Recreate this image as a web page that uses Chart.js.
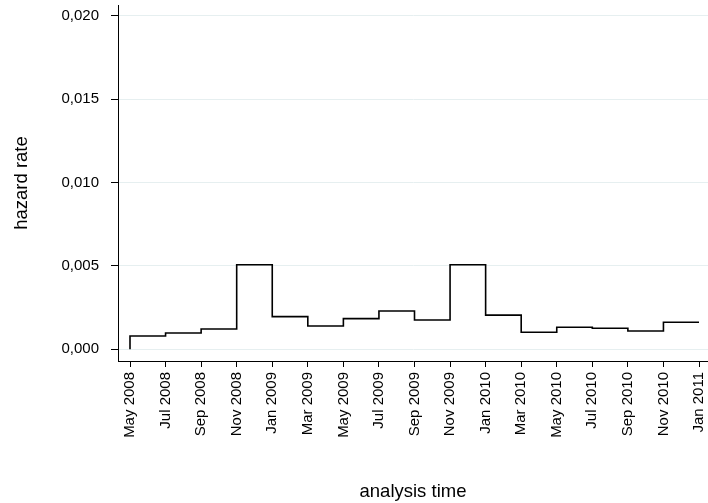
<!DOCTYPE html>
<html>
<head>
<meta charset="utf-8">
<script src="https://cdn.jsdelivr.net/npm/chart.js@4"></script>
<style>
  html, body { margin: 0; padding: 0; background: #fff; }
  #chart { display: block; }
</style>
</head>
<body>
<canvas id="chart" width="708" height="503"></canvas>
<script>
// tick labels on the time axis, one every two months
const tickLabels = [
  "May 2008", "Jul 2008", "Sep 2008", "Nov 2008", "Jan 2009", "Mar 2009",
  "May 2009", "Jul 2009", "Sep 2009", "Nov 2009", "Jan 2010", "Mar 2010",
  "May 2010", "Jul 2010", "Sep 2010", "Nov 2010", "Jan 2011"
];
// step start, in months since May 2008
const stepStart = [0, 2, 4, 6, 8, 10, 12, 14, 16, 18, 20, 22, 24, 26, 28, 30, 32];
// hazard rate held over each two-month interval
const hazard = [
  0.00080, 0.00098, 0.00122, 0.00507, 0.00196, 0.00140, 0.00184, 0.00230,
  0.00176, 0.00507, 0.00205, 0.00102, 0.00132, 0.00126, 0.00110, 0.00162
];
const yTicks = [0, 0.005, 0.010, 0.015, 0.020];

// step points: start at zero, each value is held until the next boundary
const points = [{ x: stepStart[0], y: 0 }, { x: stepStart[0], y: hazard[0] }];
for (let i = 1; i < stepStart.length; i++) {
  points.push({ x: stepStart[i], y: hazard[Math.min(i, hazard.length - 1)] });
}

const font = { family: "'Liberation Sans', Arial, sans-serif", size: 15 };
const titleFont = { family: "'Liberation Sans', Arial, sans-serif", size: 18.5 };

new Chart(document.getElementById("chart"), {
  type: "line",
  data: {
    datasets: [{
      data: points,
      stepped: "before",
      borderColor: "#000",
      borderWidth: 1.6,
      pointRadius: 0,
      fill: false
    }]
  },
  options: {
    responsive: false,
    devicePixelRatio: 1,
    animation: false,
    layout: { padding: { top: 5, right: 0, left: 0, bottom: 0 } },
    plugins: { legend: { display: false }, tooltip: { enabled: false } },
    scales: {
      x: {
        type: "linear",
        min: -0.675,
        max: 32.506,
        afterBuildTicks: (scale) => {
          scale.ticks = stepStart.map((v) => ({ value: v }));
        },
        afterFit: (scale) => {
          scale.height = 142;
          scale.paddingLeft = 0;
          scale.paddingRight = 0;
        },
        ticks: {
          autoSkip: false,
          maxRotation: 90,
          minRotation: 90,
          padding: 5,
          color: "#000",
          font: font,
          callback: (v) => tickLabels[stepStart.indexOf(v)]
        },
        grid: {
          drawOnChartArea: false,
          tickLength: 6,
          tickColor: "#000"
        },
        border: { color: "#000", width: 1 },
        title: {
          display: true,
          text: "analysis time",
          color: "#000",
          font: titleFont,
          padding: { top: 7, bottom: 0 }
        }
      },
      y: {
        min: -0.000702,
        max: 0.02066,
        afterBuildTicks: (scale) => {
          scale.ticks = yTicks.map((v) => ({ value: v }));
        },
        afterFit: (scale) => {
          scale.width = 118;
          scale.paddingTop = 0;
          scale.paddingBottom = 0;
        },
        ticks: {
          padding: 12,
          color: "#000",
          font: font,
          callback: (v) => v.toFixed(3).replace(".", ",")
        },
        grid: {
          color: "#e6eff0",
          lineWidth: 1,
          tickLength: 7,
          tickColor: "#000"
        },
        border: { color: "#000", width: 1 },
        title: {
          display: true,
          text: "hazard rate",
          color: "#000",
          font: titleFont,
          padding: { top: 11, bottom: 0 }
        }
      }
    }
  }
});
</script>
</body>
</html>
